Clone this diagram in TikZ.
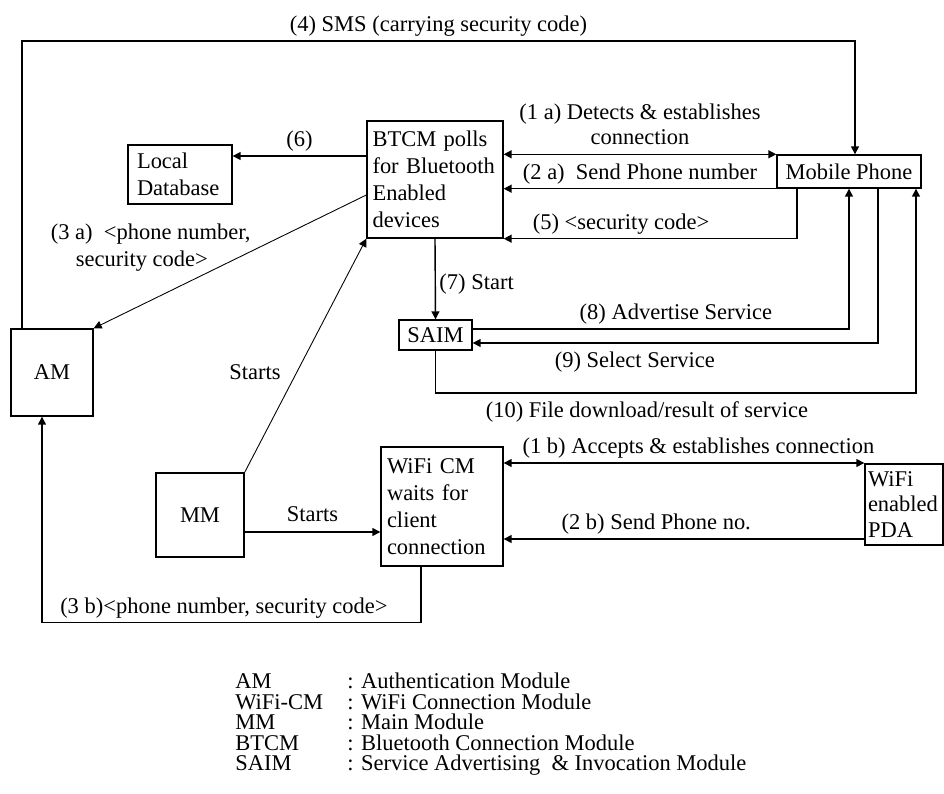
\documentclass[tikz,border=0pt]{standalone}
\usepackage{fontspec}
\setmainfont{Liberation Serif}
\usetikzlibrary{arrows.meta,positioning,calc}
\tikzset{
    modbox/.style={draw, line width=0.8pt, align=left, inner ysep=2pt},
    modlabel/.style={align=center, inner sep=2pt},
    flowarrow/.style={-{Triangle[length=1.6mm,width=1.6mm]}, line width=0.8pt},
    flowboth/.style={{Triangle[length=1.6mm,width=1.6mm]}-{Triangle[length=1.6mm,width=1.6mm]}, line width=0.8pt},
    startsarrow/.style={-{Triangle[length=1.6mm,width=1.6mm]}, line width=0.5pt}
}

\begin{document}
\begin{tikzpicture}[x=0.02cm, y=-0.02cm, font=\fontsize{12.8pt}{15.4pt}\selectfont]
    \useasboundingbox (0,0) rectangle (944,794);
    \node[modbox, inner xsep=0.18cm, minimum width=2.08cm, minimum height=1.18cm, text width=1.72cm] (db) at (180,174.5) {Local\\Database};
    \node[modbox, inner xsep=0.11cm, minimum width=2.72cm, minimum height=2.34cm, text width=2.5cm] (btcm) at (435,179.5) {BTCM polls\\for Bluetooth\\Enabled\\devices};
    \node[modbox, align=center, minimum width=2.88cm, minimum height=0.66cm, inner sep=0pt] (mobile) at (849,171.5) {Mobile Phone};
    \node[modbox, align=center, minimum width=1.46cm, minimum height=0.6cm, inner sep=0pt] (saim) at (435.5,335) {SAIM};
    \node[modbox, align=center, minimum width=1.64cm, minimum height=1.74cm] (am) at (52,372.5) {AM};
    \node[modbox, align=center, minimum width=1.76cm, minimum height=1.68cm] (mm) at (200,515) {MM};
    \node[modbox, inner xsep=0.12cm, minimum width=2.44cm, minimum height=2.38cm, text width=2.2cm] (wcm) at (442,506.5) {WiFi CM\\waits for\\client\\connection};
    \node[modbox, inner xsep=0.06cm, minimum width=1.56cm, minimum height=1.62cm, text width=1.44cm, font=\fontsize{12.8pt}{14.5pt}\selectfont] (pda) at (904,504.5) {WiFi\\enabled\\PDA};

    \draw[flowarrow] ([xshift=-0.6cm]am.north) |- node[modlabel, above, pos=0.75]{(4) SMS (carrying security code)} ([xshift=0.12cm]mobile.north |- 0,41) -- ([xshift=0.12cm]mobile.north);
    \draw[flowboth] (btcm.east |- mobile.north west) -- node[modlabel, above, yshift=0.1cm, font=\fontsize{12.8pt}{14.4pt}\selectfont]{(1 a) Detects \& establishes\\connection} (mobile.north west);
    \draw[flowarrow] (mobile.south west) -- node[modlabel, above]{(2 a)\ \ Send Phone number} (btcm.east |- mobile.south west);
    \draw[flowarrow] ([xshift=-1.04cm]mobile.south) |- node[modlabel, above, pos=0.8]{(5) <security code>} (btcm.south east);
    \draw[flowarrow] (btcm.west |- 0,156) -- node[modlabel, above]{(6)} (db.east |- 0,156);
    \draw[startsarrow] (btcm.west |- 0,195) -- node[modlabel, align=left, anchor=south east, pos=0.41, yshift=-0.52cm]{(3 a)\ \ <phone number,\\\hspace*{0.5cm}security code>} (am.north east);
    \draw[flowarrow] (btcm.south) -- node[modlabel, right, yshift=-0.1cm]{(7) Start} (saim.north);
    \draw[flowarrow] (saim.east |- 0,329) -| node[modlabel, above, pos=0.27]{(8) Advertise Service} (mobile.south);
    \draw[flowarrow] ([xshift=0.58cm]mobile.south) |- node[modlabel, below, pos=0.8, yshift=-0.1cm]{(9) Select Service} (saim.east |- 0,343);
    \draw[flowarrow] (saim.south) |- node[modlabel, below, pos=0.72, yshift=-0.08cm]{(10) File download/result of service} ([xshift=1.34cm]mobile.south |- 0,393) -- ([xshift=1.34cm]mobile.south);
    \draw[startsarrow] (mm.north east) -- node[modlabel, pos=0.43, left=0.25cm]{Starts} (btcm.south west);
    \draw[flowarrow] (mm.east |- 0,532) -- node[modlabel, above, yshift=0.12cm]{Starts} (wcm.west |- 0,532);
    \draw[flowboth] (wcm.east |- 0,463) -- node[modlabel, above, pos=0.54]{(1 b) Accepts \& establishes connection} (pda.west |- 0,463);
    \draw[flowarrow] (pda.west |- 0,539) -- node[modlabel, above, pos=0.577]{(2 b) Send Phone no.} (wcm.east |- 0,539);
    \draw[flowarrow] ([xshift=-0.42cm]wcm.south) -- ++(0,56) -| node[modlabel, above, pos=0.26]{(3 b)<phone number, security code>} ([xshift=-0.2cm]am.south);

    \node[anchor=north west, inner sep=0pt, align=left, font=\fontsize{12.8pt}{11.6pt}\selectfont] (legend) at (235,673) {\makebox[2.24cm][l]{AM}: Authentication Module\\
        \makebox[2.24cm][l]{WiFi-CM}: WiFi Connection Module\\
        \makebox[2.24cm][l]{MM}: Main Module\\
        \makebox[2.24cm][l]{BTCM}: Bluetooth Connection Module\\
        \makebox[2.24cm][l]{SAIM}: Service Advertising\ \ \& Invocation Module};
\end{tikzpicture}
\end{document}
